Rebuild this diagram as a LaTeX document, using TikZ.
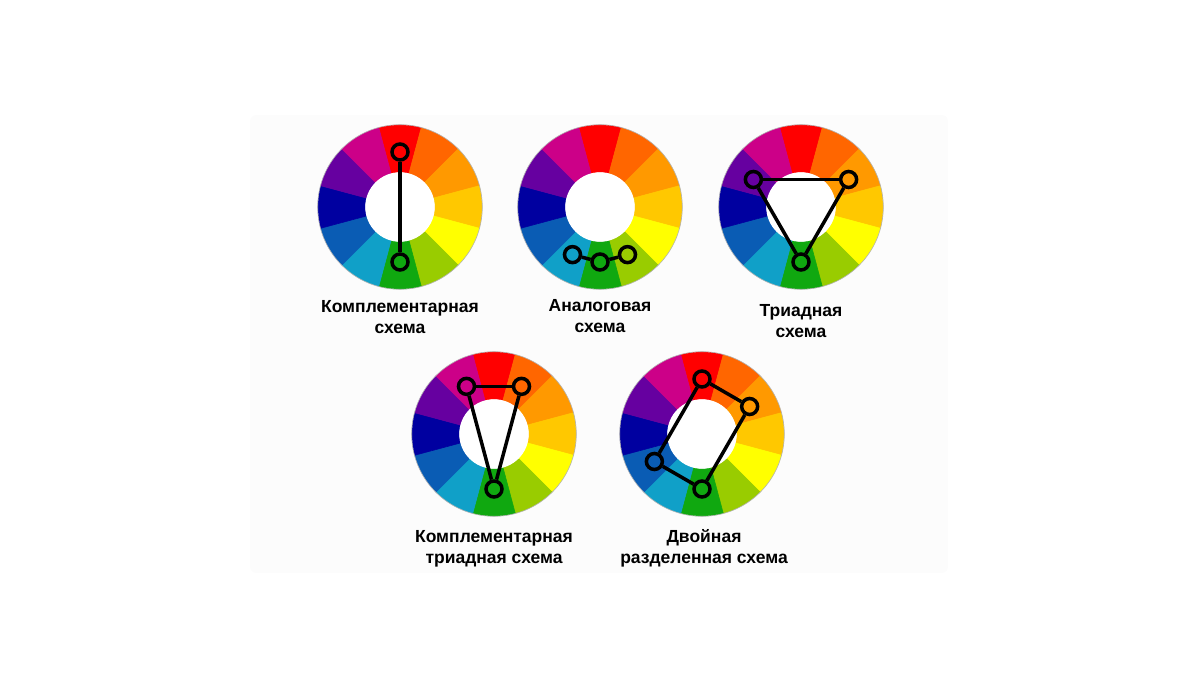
\documentclass[tikz,border=0pt]{standalone}
\usepackage{fontspec}
\setmainfont{Liberation Sans}
\usepackage{tikz}
\definecolor{cwa}{HTML}{FF0000}
\definecolor{cwb}{HTML}{FF6600}
\definecolor{cwc}{HTML}{FF9900}
\definecolor{cwd}{HTML}{FFC800}
\definecolor{cwe}{HTML}{FFFF00}
\definecolor{cwf}{HTML}{99CC00}
\definecolor{cwg}{HTML}{10A810}
\definecolor{cwh}{HTML}{10A0C8}
\definecolor{cwi}{HTML}{0A5CB4}
\definecolor{cwj}{HTML}{0000A0}
\definecolor{cwk}{HTML}{6600A0}
\definecolor{cwl}{HTML}{CC0088}
\colorlet{panel}{black!1}
\tikzstyle{dot}=[circle,draw,line width=3.5pt,minimum size=16pt,inner sep=0pt]
\tikzstyle{link}=[line width=3.5pt]
\tikzstyle{lbl}=[align=center,font=\bfseries\fontsize{17.5}{21}\selectfont]
\newcommand\colorwheel[2]{%
  \coordinate (#1) at (#2);
  \begin{scope}[shift={(#2)}]
    \foreach \c [count=\i from 0] in {cwa,cwb,cwc,cwd,cwe,cwf,cwg,cwh,cwi,cwj,cwk,cwl}
      \filldraw[\c,line width=.6pt,line join=round] (75-\i*30:35) -- (75-\i*30:82) arc[start angle=75-\i*30,end angle=105-\i*30,radius=82]
        -- (105-\i*30:35) arc[start angle=105-\i*30,end angle=75-\i*30,radius=35] -- cycle;
    \fill[white] (0,0) circle[radius=34.7];
    \draw[black!30,line width=.6pt] (0,0) circle[radius=82.3];
  \end{scope}%
}

\begin{document}
\begin{tikzpicture}[x=1pt,y=1pt]
	\useasboundingbox (0,0) rectangle (1200,675);
	\fill[panel,rounded corners=6pt] (250,102) rectangle (948,560);
	% complementary
	\colorwheel{wa}{400,468}
	\node[dot] (a1) at ([shift={(90:55)}]wa) {};
	\node[dot] (a2) at ([shift={(270:55)}]wa) {};
	\draw[link] (a1) -- (a2);
	\node[lbl] (la) at (400,357.5) {Комплементарная\\схема};
	% analogous
	\colorwheel{wb}{600,468}
	\node[dot] (b1) at ([shift={(240:55)}]wb) {};
	\node[dot] (b2) at ([shift={(270:55)}]wb) {};
	\node[dot] (b3) at ([shift={(300:55)}]wb) {};
	\draw[link] (b1) -- (b2);
	\draw[link] (b2) -- (b3);
	\node[lbl] (lb) at (600,358.5) {Аналоговая\\схема};
	% triad
	\colorwheel{wc}{801,468}
	\node[dot] (c1) at ([shift={(150:55)}]wc) {};
	\node[dot] (c2) at ([shift={(30:55)}]wc) {};
	\node[dot] (c3) at ([shift={(270:55)}]wc) {};
	\draw[link] (c1) -- (c2);
	\draw[link] (c2) -- (c3);
	\draw[link] (c3) -- (c1);
	\node[lbl] (lc) at (801,353.5) {Триадная\\схема};
	% split complementary
	\colorwheel{wd}{494,241}
	\node[dot] (d1) at ([shift={(120:55)}]wd) {};
	\node[dot] (d2) at ([shift={(60:55)}]wd) {};
	\node[dot] (d3) at ([shift={(270:55)}]wd) {};
	\draw[link] (d1) -- (d2);
	\draw[link] (d2) -- (d3);
	\draw[link] (d3) -- (d1);
	\node[lbl] (ld) at (494,126.5) {Комплементарная\\триадная схема};
	% double split
	\colorwheel{we}{702,241}
	\node[dot] (e1) at ([shift={(90:55)}]we) {};
	\node[dot] (e2) at ([shift={(30:55)}]we) {};
	\node[dot] (e3) at ([shift={(270:55)}]we) {};
	\node[dot] (e4) at ([shift={(210:55)}]we) {};
	\draw[link] (e1) -- (e2);
	\draw[link] (e2) -- (e3);
	\draw[link] (e3) -- (e4);
	\draw[link] (e4) -- (e1);
	\node[lbl] (le) at (704,126.5) {Двойная\\разделенная схема};
\end{tikzpicture}
\end{document}
